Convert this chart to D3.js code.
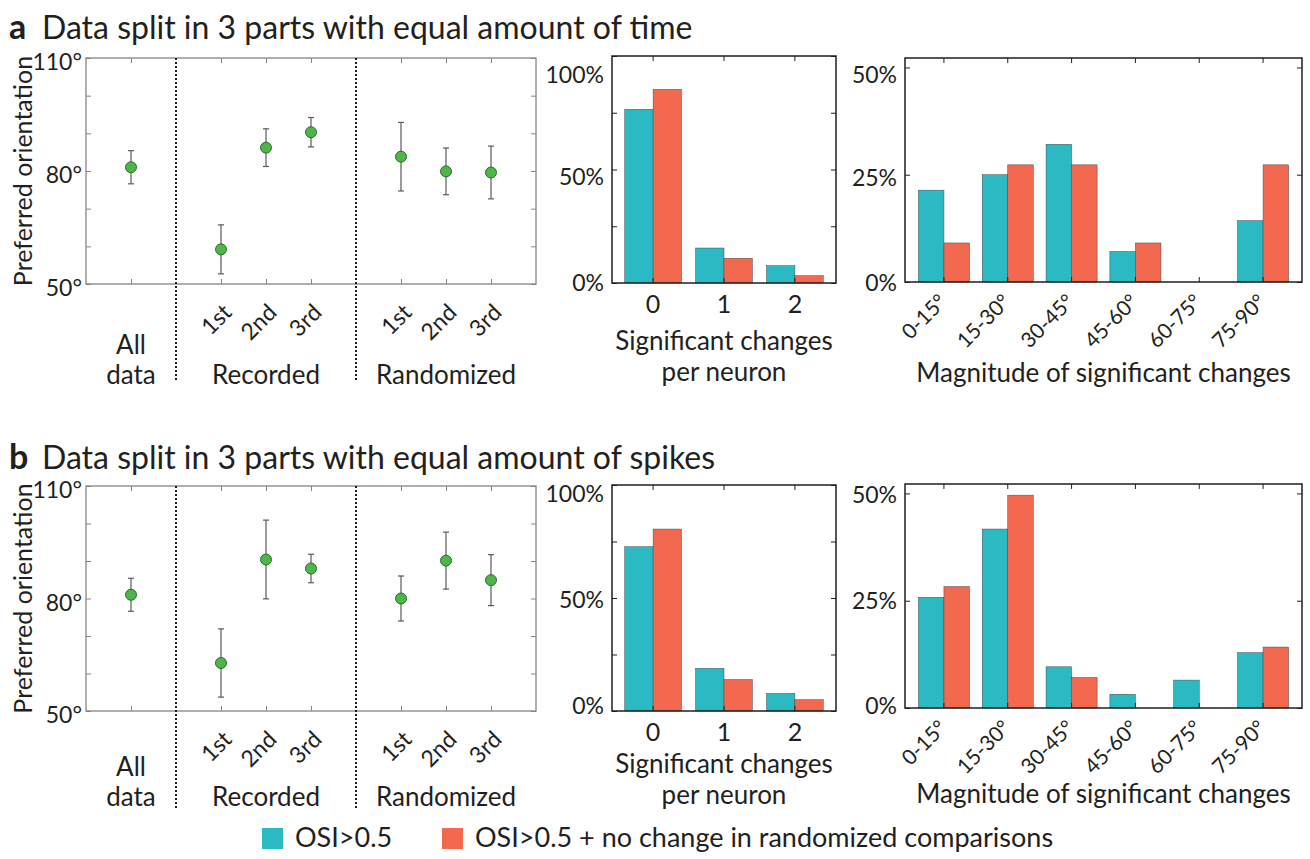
<!DOCTYPE html>
<html>
<head>
<meta charset="utf-8">
<script src="https://cdn.jsdelivr.net/npm/d3@7"></script>
<style>
  body { margin: 0; background: #fff; }
  text { font-family: Lato, "Open Sans", sans-serif; fill: #231f20; }
</style>
</head>
<body>
<svg id="fig" width="1310" height="859"></svg>
<script>
// ---------------- data ----------------
// Preferred orientation (deg): slots along the x axis, separators included
const orientSlots = ["all", "gap1", "rec1", "rec2", "rec3", "gap2", "rnd1", "rnd2", "rnd3"];
const orientKeys = ["all", "rec1", "rec2", "rec3", "rnd1", "rnd2", "rnd3"];
const orientTickText = ["", "1st", "2nd", "3rd", "1st", "2nd", "3rd"];
const orientTimeMean = [81.0, 59.2, 86.2, 90.3, 83.8, 79.9, 79.6];
const orientTimeErr = [4.4, 6.5, 5.0, 3.9, 9.1, 6.2, 7.0];
const orientSpikeMean = [81.0, 62.8, 90.4, 88.0, 80.0, 90.1, 84.9];
const orientSpikeErr = [4.4, 9.1, 10.5, 3.8, 6.0, 7.6, 6.8];
const orientYTicks = [50, 60, 70, 80, 90, 100, 110];
const orientYLabels = [50, 80, 110];

// Two neuron groups shown in every bar chart
const seriesKeys = ["osi", "stable"];
const seriesNames = ["OSI>0.5", "OSI>0.5 + no change in randomized comparisons"];
const seriesColors = ["#2bbac4", "#f2694f"];

// Significant changes per neuron (% of neurons)
const changeCats = ["0", "1", "2"];
const changeTimeOSI = [76.5, 15.4, 7.6];
const changeTimeStable = [85.3, 10.9, 3.2];
const changeSpikeOSI = [72.7, 18.9, 7.8];
const changeSpikeStable = [80.5, 13.9, 5.0];
const changeYTicks = [0, 25, 50, 75, 100];
const changeYLabels = [0, 50, 100];

// Magnitude of significant changes (% of changes)
const magCats = ["0-15°", "15-30°", "30-45°", "45-60°", "60-75°", "75-90°"];
const magTimeOSI = [21.4, 25.0, 32.1, 7.1, 0, 14.3];
const magTimeStable = [9.1, 27.3, 27.3, 9.1, 0, 27.3];
const magSpikeOSI = [25.8, 41.7, 9.6, 3.2, 6.5, 12.9];
const magSpikeStable = [28.3, 49.6, 7.1, 0, 0, 14.2];
const magYTicks = [0, 25, 50];
const magYMax = 52.2;

// ---------------- layout ----------------
// labelNudge: extra vertical offset (px) of each y tick label, bottom to top
const rows = [
  {
    letter: "a", title: "Data split in 3 parts with equal amount of time", titleY: 39, textShift: 5,
    scatter: { x0: 86, x1: 536, y0: 58, y1: 284 },
    mid: { x0: 612, x1: 836, y0: 56, y1: 283, labelNudge: [0, 8, 19] },
    right: { x0: 905, x1: 1302, y0: 58, y1: 282, labelNudge: [1, 3, 8] },
    mean: orientTimeMean, err: orientTimeErr,
    changes: [changeTimeOSI, changeTimeStable],
    mags: [magTimeOSI, magTimeStable]
  },
  {
    letter: "b", title: "Data split in 3 parts with equal amount of spikes", titleY: 469, textShift: 0,
    scatter: { x0: 86, x1: 536, y0: 486, y1: 711 },
    mid: { x0: 612, x1: 836, y0: 485, y1: 711, labelNudge: [-5, 2, 9] },
    right: { x0: 905, x1: 1302, y0: 484, y1: 708, labelNudge: [-2, 0, 2] },
    mean: orientSpikeMean, err: orientSpikeErr,
    changes: [changeSpikeOSI, changeSpikeStable],
    mags: [magSpikeOSI, magSpikeStable]
  }
];

const TICK_FS = 23, LABEL_FS = 26;
const svg = d3.select("#fig");
svg.append("rect").attr("width", 1310).attr("height", 859).attr("fill", "#fff");

function styleAxis(sel, color) {
  sel.select(".domain").remove();
  sel.selectAll(".tick line").attr("stroke", color).attr("stroke-width", 1);
  sel.selectAll(".tick text").attr("font-size", TICK_FS).attr("fill", "#231f20")
     .style("font-family", "Lato, 'Open Sans', sans-serif");
}

function drawScatter(g, box, mean, err, shift) {
  const x = d3.scalePoint().domain(orientSlots).range([box.x0, box.x1]).padding(1);
  const y = d3.scaleLinear().domain([50, 110]).range([box.y1, box.y0]);
  const frame = "#858585";

  g.append("g").attr("transform", `translate(${box.x0},0)`)
    .call(d3.axisLeft(y).tickValues(orientYTicks).tickSize(-5).tickPadding(4)
      .tickFormat(d => orientYLabels.includes(d) ? d + "°" : ""))
    .call(s => styleAxis(s, frame))
    .call(s => s.selectAll(".tick text").attr("dy", "0.5em"));
  g.append("g").attr("transform", `translate(${box.x1},0)`)
    .call(d3.axisRight(y).tickValues(orientYTicks).tickSize(-5).tickFormat(""))
    .call(s => styleAxis(s, frame));
  g.append("g").attr("transform", `translate(0,${box.y1})`)
    .call(d3.axisBottom(x).tickValues(orientKeys).tickSize(-5).tickFormat(""))
    .call(s => styleAxis(s, frame));
  g.append("g").attr("transform", `translate(0,${box.y0})`)
    .call(d3.axisTop(x).tickValues(orientKeys).tickSize(-5).tickFormat(""))
    .call(s => styleAxis(s, frame));

  g.append("rect").attr("x", box.x0).attr("y", box.y0)
    .attr("width", box.x1 - box.x0).attr("height", box.y1 - box.y0)
    .attr("fill", "none").attr("stroke", frame).attr("stroke-width", 1.3);

  // dotted separators between groups run down through the label area
  ["gap1", "gap2"].forEach(k => {
    g.append("line").attr("x1", x(k)).attr("x2", x(k))
      .attr("y1", box.y0).attr("y2", box.y1 + 98)
      .attr("stroke", "#1c1c1c").attr("stroke-width", 2).attr("stroke-dasharray", "2,2");
  });

  const pts = orientKeys.map((k, i) => ({ k, m: mean[i], e: err[i], t: orientTickText[i] }));
  const eb = g.append("g").attr("stroke", "#5a5a5a").attr("stroke-width", 1.2);
  pts.forEach(p => {
    const cx = x(p.k);
    eb.append("line").attr("x1", cx).attr("x2", cx).attr("y1", y(p.m - p.e)).attr("y2", y(p.m + p.e));
    [p.m - p.e, p.m + p.e].forEach(v =>
      eb.append("line").attr("x1", cx - 3).attr("x2", cx + 3).attr("y1", y(v)).attr("y2", y(v)));
  });
  g.append("g").selectAll("circle").data(pts).join("circle")
    .attr("cx", d => x(d.k)).attr("cy", d => y(d.m)).attr("r", 5.5)
    .attr("fill", "#4cb649").attr("stroke", "#2f6b2c").attr("stroke-width", 1);

  // rotated part labels
  pts.filter(p => p.t).forEach(p => {
    g.append("text").attr("text-anchor", "end").attr("font-size", TICK_FS)
      .attr("transform", `translate(${x(p.k) + 12},${box.y1 + 30}) rotate(-45)`)
      .text(p.t);
  });
  // group labels
  const lab = (txt, k, dy) => g.append("text").attr("x", x(k)).attr("y", box.y1 + dy + shift)
    .attr("text-anchor", "middle").attr("font-size", LABEL_FS).text(txt);
  lab("All", "all", 65); lab("data", "all", 95);
  lab("Recorded", "rec2", 95); lab("Randomized", "rnd2", 95);

  // y axis title
  g.append("text").attr("text-anchor", "middle").attr("font-size", 25)
    .attr("transform", `translate(32,${(box.y0 + box.y1) / 2}) rotate(-90)`)
    .text("Preferred orientation");
}

function drawBars(g, box, cats, series, yMax, yTicks, yLabels, padOuter, rotated) {
  const x = d3.scaleBand().domain(cats).range([box.x0, box.x1])
    .paddingInner(0.2).paddingOuter(padOuter);
  const xs = d3.scaleBand().domain(seriesKeys).range([0, x.bandwidth()]);
  const y = d3.scaleLinear().domain([0, yMax]).range([box.y1, box.y0]);
  const frame = "#1f1f1f";

  const rowsData = cats.map((c, i) => ({ c, vals: seriesKeys.map((s, j) => ({ s, j, v: series[j][i] })) }));
  const grp = g.append("g").selectAll("g").data(rowsData).join("g")
    .attr("transform", d => `translate(${x(d.c)},0)`);
  grp.selectAll("rect").data(d => d.vals.filter(v => v.v > 0)).join("rect")
    .attr("x", d => xs(d.s)).attr("width", xs.bandwidth())
    .attr("y", d => y(d.v)).attr("height", d => y(0) - y(d.v))
    .attr("fill", d => seriesColors[d.j])
    .attr("stroke", "#4a4a4a").attr("stroke-width", 0.5);

  const pct = d => yLabels.includes(d) ? d + "%" : "";
  g.append("g").attr("transform", `translate(${box.x0},0)`)
    .call(d3.axisLeft(y).tickValues(yTicks).tickSize(-5).tickPadding(8).tickFormat(pct))
    .call(s => styleAxis(s, frame))
    .call(s => s.selectAll(".tick text")
      .attr("y", d => yLabels.includes(d) ? box.labelNudge[yLabels.indexOf(d)] : 0));
  g.append("g").attr("transform", `translate(${box.x1},0)`)
    .call(d3.axisRight(y).tickValues(yTicks).tickSize(-5).tickFormat(""))
    .call(s => styleAxis(s, frame));
  g.append("g").attr("transform", `translate(0,${box.y0})`)
    .call(d3.axisTop(x).tickSize(-5).tickFormat(""))
    .call(s => styleAxis(s, frame));
  const bottom = g.append("g").attr("transform", `translate(0,${box.y1})`)
    .call(d3.axisBottom(x).tickSize(-5).tickPadding(10))
    .call(s => styleAxis(s, frame));
  if (rotated) {
    bottom.selectAll(".tick text").attr("text-anchor", "end").attr("dy", 0).attr("y", 0)
      .attr("font-size", 21)
      .attr("transform", "translate(4,21) rotate(-45)");
  } else {
    bottom.selectAll(".tick text").attr("font-size", 25).attr("dy", 0).attr("y", 30);
  }

  g.append("rect").attr("x", box.x0).attr("y", box.y0)
    .attr("width", box.x1 - box.x0).attr("height", box.y1 - box.y0)
    .attr("fill", "none").attr("stroke", frame).attr("stroke-width", 1.5);
  return x;
}

rows.forEach(r => {
  const g = svg.append("g");
  g.append("text").attr("x", 9).attr("y", r.titleY).attr("font-size", 34)
    .attr("font-weight", 700).text(r.letter);
  g.append("text").attr("x", 42).attr("y", r.titleY).attr("font-size", 32).text(r.title);

  drawScatter(g, r.scatter, r.mean, r.err, r.textShift);

  drawBars(g, r.mid, changeCats, r.changes, 100, changeYTicks, changeYLabels, 0.18, false);
  const midC = (r.mid.x0 + r.mid.x1) / 2;
  g.append("text").attr("x", midC).attr("y", r.mid.y1 + 62 + r.textShift).attr("text-anchor", "middle")
    .attr("font-size", LABEL_FS).text("Significant changes");
  g.append("text").attr("x", midC).attr("y", r.mid.y1 + 93 + r.textShift).attr("text-anchor", "middle")
    .attr("font-size", LABEL_FS).text("per neuron");

  drawBars(g, r.right, magCats, r.mags, magYMax, magYTicks, magYTicks, 0.21, true);
  g.append("text").attr("x", (r.right.x0 + r.right.x1) / 2).attr("y", r.right.y1 + 95 + r.textShift)
    .attr("text-anchor", "middle").attr("font-size", LABEL_FS)
    .text("Magnitude of significant changes");
});

// legend
const legend = svg.append("g");
const legendX = [262, 442];
seriesNames.forEach((name, i) => {
  legend.append("rect").attr("x", legendX[i]).attr("y", 828).attr("width", 21).attr("height", 21)
    .attr("fill", seriesColors[i]);
  legend.append("text").attr("x", legendX[i] + 33).attr("y", 847).attr("font-size", 27).text(name);
});
</script>
</body>
</html>
